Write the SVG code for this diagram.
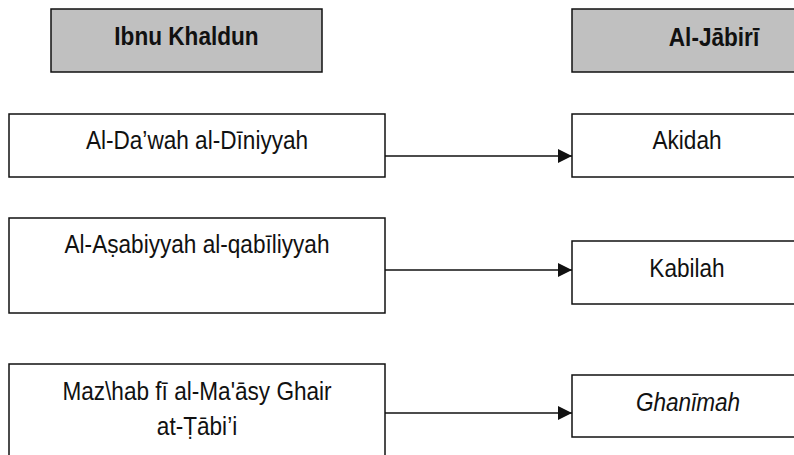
<svg xmlns="http://www.w3.org/2000/svg" width="794" height="455" viewBox="0 0 794 455">
<style>
.box{fill:#ffffff;stroke:#111111;stroke-width:1.5}
.hdr{fill:#c0c0c0;stroke:#111111;stroke-width:1.5}
.t{font-family:"Liberation Sans",Arial,sans-serif;font-size:22.6px;fill:#111111;text-anchor:middle}
.b{font-weight:bold}
.i{font-style:italic}
.con{stroke:#111111;stroke-width:1.5;fill:none}
</style>
<defs>
<marker id="arr" markerUnits="userSpaceOnUse" markerWidth="15" markerHeight="14" refX="14" refY="7" orient="auto">
<path d="M0,0 L14,7 L0,14 Z" fill="#111111"/>
</marker>
</defs>
<rect width="794" height="455" fill="#ffffff"/>
<g id="header-ibnu-khaldun">
<rect class="hdr" x="51" y="9" width="271" height="63"/>
<text class="t b" transform="translate(186.5 45) scale(1 1.1)">Ibnu Khaldun</text>
</g>
<g id="header-al-jabiri">
<rect class="hdr" x="572" y="9" width="290" height="63"/>
<text class="t b" transform="translate(714 46) scale(1 1.1)">Al-Jābirī</text>
</g>
<g id="node-dawah">
<rect class="box" x="9" y="114" width="376" height="63"/>
<text class="t" transform="translate(197 149) scale(1 1.1)">Al-Da’wah al-Dīniyyah</text>
</g>
<g id="node-akidah">
<rect class="box" x="572" y="114" width="232" height="63"/>
<text class="t" transform="translate(687 149) scale(1 1.1)">Akidah</text>
</g>
<g id="node-asabiyyah">
<rect class="box" x="9" y="218" width="376" height="95"/>
<text class="t" transform="translate(197 253) scale(1 1.1)">Al-Aṣabiyyah al-qabīliyyah</text>
</g>
<g id="node-kabilah">
<rect class="box" x="572" y="241" width="232" height="63"/>
<text class="t" transform="translate(687 277) scale(1 1.1)">Kabilah</text>
</g>
<g id="node-mazhab">
<rect class="box" x="9" y="364" width="376" height="110"/>
<text class="t" transform="translate(197 400) scale(1 1.1)">Maz\hab fī al-Ma'āsy Ghair</text>
<text class="t" transform="translate(197 435) scale(1 1.1)">at-Ṭābi’i</text>
</g>
<g id="node-ghanimah">
<rect class="box" x="572" y="375" width="232" height="62"/>
<text class="t i" transform="translate(688 411) scale(1 1.1)">Ghanīmah</text>
</g>
<g id="connectors">
<line class="con" x1="385" y1="156" x2="572" y2="156" marker-end="url(#arr)"/>
<line class="con" x1="385" y1="270" x2="572" y2="270" marker-end="url(#arr)"/>
<line class="con" x1="385" y1="413" x2="572" y2="413" marker-end="url(#arr)"/>
</g>
</svg>
